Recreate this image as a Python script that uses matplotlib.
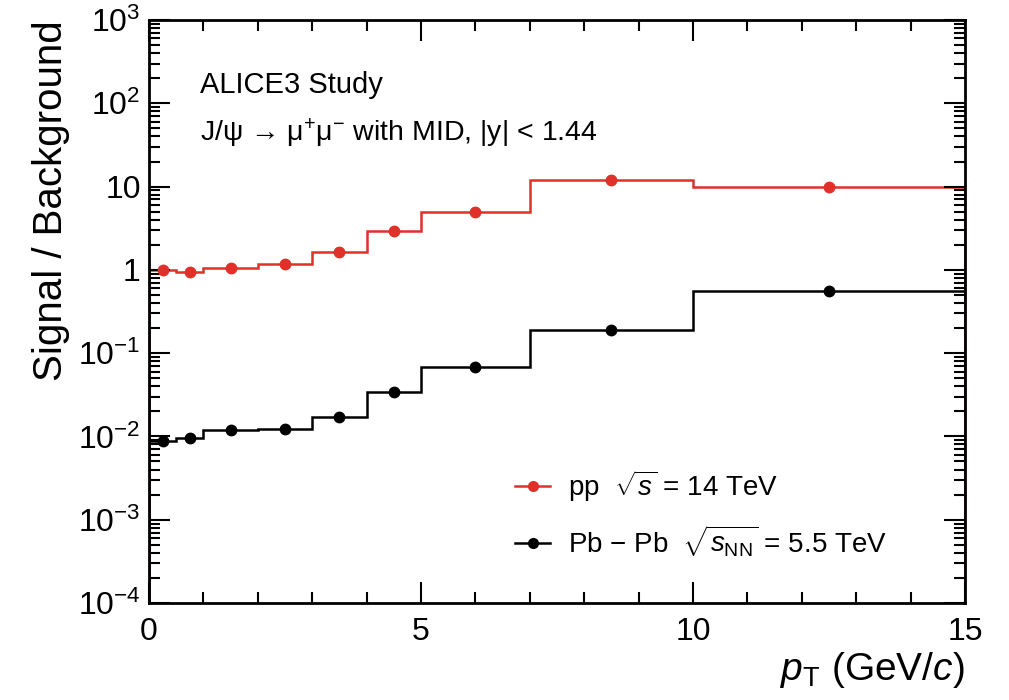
import matplotlib
matplotlib.use("Agg")
import matplotlib.pyplot as plt
from matplotlib.lines import Line2D
from matplotlib.ticker import LogLocator, MultipleLocator, NullFormatter

plt.rcParams['font.family'] = ['Liberation Sans', 'DejaVu Sans']
plt.rcParams['mathtext.fontset'] = 'custom'
plt.rcParams['mathtext.rm'] = 'Liberation Sans'
plt.rcParams['mathtext.it'] = 'Liberation Sans:italic'
plt.rcParams['mathtext.bf'] = 'Liberation Sans:bold'

# pT bin edges (GeV/c) and bin centres
edges = [0, 0.5, 1, 2, 3, 4, 5, 7, 10, 15]
centres = [0.25, 0.75, 1.5, 2.5, 3.5, 4.5, 6, 8.5, 12.5]

# signal / background
sb_pp = [1.0, 0.94, 1.06, 1.19, 1.66, 2.93, 4.9, 11.9, 9.8]
sb_pbpb = [0.0089, 0.0095, 0.0118, 0.0124, 0.0172, 0.0344, 0.069, 0.19, 0.55]

ytick_vals = [1e-4, 1e-3, 1e-2, 1e-1, 1, 10, 1e2, 1e3]
ytick_labels = [r'10$^{-4}$', r'10$^{-3}$', r'10$^{-2}$', r'10$^{-1}$', '1', '10',
                r'10$^{2}$', r'10$^{3}$']

red = '#e0302a'
fig = plt.figure(figsize=(10.09, 7), dpi=100)
ax = fig.add_axes([0.1477, 0.1386, 0.8087, 0.8328])

ax.stairs(sb_pbpb, edges, baseline=1e-4, color='black', lw=1.8)
ax.plot(centres, sb_pbpb, 'o', color='black', ms=7.5)
ax.stairs(sb_pp, edges, baseline=1e-4, color=red, lw=1.8)
ax.plot(centres, sb_pp, 'o', color=red, ms=7.5)

ax.set_yscale('log')
ax.set_xlim(0, 15)
ax.set_ylim(1e-4, 1e3)
ax.set_yticks(ytick_vals)
ax.set_yticklabels(ytick_labels)
ax.yaxis.set_minor_locator(LogLocator(base=10, subs=range(2, 10), numticks=20))
ax.yaxis.set_minor_formatter(NullFormatter())
ax.xaxis.set_major_locator(MultipleLocator(5))
ax.xaxis.set_minor_locator(MultipleLocator(1))

ax.tick_params(which='both', direction='in', top=True, right=True, labelsize=23, width=1.5)
ax.tick_params(which='major', length=15)
ax.tick_params(which='minor', length=8)
ax.tick_params(axis='x', pad=10)
ax.tick_params(axis='y', pad=6)
for s in ax.spines.values():
    s.set_linewidth(2)

ax.set_ylabel('Signal / Background', fontsize=29, loc='top', labelpad=6)
ax.set_xlabel(r'$p_{\rm T}$ (GeV/$c$)', fontsize=28, loc='right', labelpad=2)

ax.text(0.062, 0.888, 'ALICE3 Study', transform=ax.transAxes, fontsize=21, va='center')
ax.text(0.062, 0.806, r'J/ψ → μ$^{+}$μ$^{-}$ with MID, |y| < 1.44',
        transform=ax.transAxes, fontsize=20.5, va='center')

handles = [Line2D([], [], color=red, lw=1.8, marker='o', ms=7),
           Line2D([], [], color='black', lw=1.8, marker='o', ms=7)]
labels = [r'pp  $\sqrt{s}$ = 14 TeV', r'Pb $-$ Pb  $\sqrt{s_{\rm NN}}$ = 5.5 TeV']
ax.legend(handles, labels, loc='lower left', bbox_to_anchor=(0.449, 0.075), frameon=False,
          fontsize=20, handlelength=1.26, labelspacing=0.72, handletextpad=0.65,
          borderpad=0, borderaxespad=0)

fig.savefig('out.png', dpi=100)
